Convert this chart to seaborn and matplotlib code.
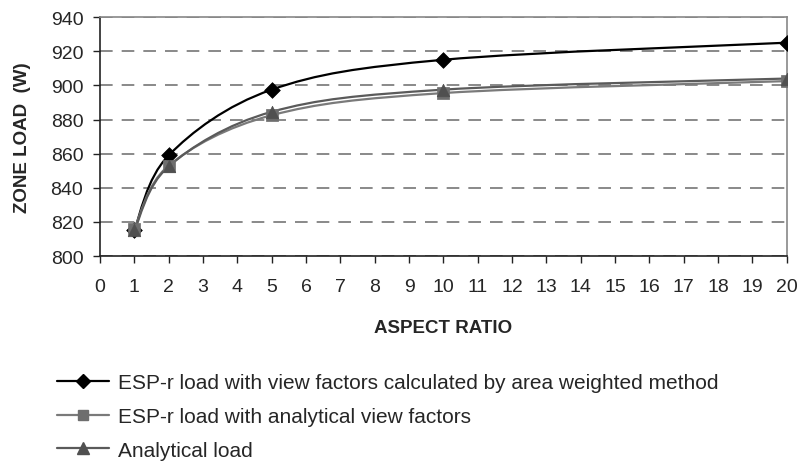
import numpy as np
import pandas as pd
import matplotlib
matplotlib.use("Agg")
import matplotlib.pyplot as plt
from matplotlib.path import Path
from matplotlib.patches import PathPatch
from matplotlib.lines import Line2D
import seaborn as sns

# Zone load versus aspect ratio
aspect_ratio = [1, 2, 5, 10, 20]
load_area_weighted = [815.5, 859, 897.5, 915, 925]
load_analytical_vf = [816, 853, 882.5, 895.5, 902.5]
load_analytical = [815, 852.5, 884.5, 897.5, 904]

series_names = [
    "ESP-r load with view factors calculated by area weighted method",
    "ESP-r load with analytical view factors",
    "Analytical load",
]
series_values = [load_area_weighted, load_analytical_vf, load_analytical]
line_colors = ["#000000", "#7a7a7a", "#5a5a5a"]
marker_colors = ["#000000", "#6e6e6e", "#505050"]
markers = ["D", "s", "^"]
marker_sizes = [8, 8, 9]

x_ticks = list(range(0, 21))
y_ticks = list(range(800, 941, 20))

df = pd.concat(
    [pd.DataFrame({"ratio": aspect_ratio, "load": v, "series": n})
     for n, v in zip(series_names, series_values)],
    ignore_index=True,
)

sns.set_theme(style="white")
plt.rcParams["font.family"] = ["Liberation Sans", "DejaVu Sans"]

fig = plt.figure(figsize=(7.98, 4.64), dpi=100)
ax = fig.add_axes([0.1253, 0.446, 0.8607, 0.515])


def smooth_path(xs, ys, tension=1 / 6):
    """Cubic Bezier path through the points (Catmull-Rom style smoothing)."""
    xs = np.asarray(xs, float)
    ys = np.asarray(ys, float)
    n = len(xs)
    verts = [(xs[0], ys[0])]
    codes = [Path.MOVETO]
    for i in range(n - 1):
        p0 = np.array([xs[max(i - 1, 0)], ys[max(i - 1, 0)]])
        p1 = np.array([xs[i], ys[i]])
        p2 = np.array([xs[i + 1], ys[i + 1]])
        p3 = np.array([xs[min(i + 2, n - 1)], ys[min(i + 2, n - 1)]])
        c1 = p1 + (p2 - p0) * tension
        c2 = p2 - (p3 - p1) * tension
        verts += [tuple(c1), tuple(c2), tuple(p2)]
        codes += [Path.CURVE4] * 3
    return Path(verts, codes)


for name, vals, lc in zip(series_names, series_values, line_colors):
    patch = PathPatch(smooth_path(aspect_ratio, vals), facecolor="none",
                      edgecolor=lc, lw=1.6, zorder=3)
    ax.add_patch(patch)

for name, mk, mc, ms in zip(series_names, markers, marker_colors, marker_sizes):
    sub = df[df["series"] == name]
    sns.scatterplot(data=sub, x="ratio", y="load", marker=mk, color=mc,
                    s=ms ** 2, edgecolor=mc, linewidth=0.5, ax=ax, zorder=4,
                    legend=False)

ax.set_xlim(0, 20)
ax.set_ylim(800, 940)
ax.set_xticks(x_ticks)
ax.set_yticks(y_ticks)
ax.set_xticklabels([str(t) for t in x_ticks], fontsize=14)
ax.set_yticklabels([str(t) for t in y_ticks], fontsize=14)

ax.yaxis.grid(True, color="#808080", linestyle=(0, (7, 5)), linewidth=1.3)
ax.xaxis.grid(False)
ax.set_axisbelow(True)

for side in ["left", "bottom"]:
    ax.spines[side].set_color("#222222")
    ax.spines[side].set_linewidth(1.2)
for side in ["top", "right"]:
    ax.spines[side].set_color("#888888")
    ax.spines[side].set_linewidth(1.2)

ax.tick_params(axis="both", which="major", direction="out", length=5,
               width=1, color="#222222", bottom=True, left=True)
ax.tick_params(axis="x", pad=11)
ax.tick_params(axis="y", pad=7)

ax.set_xlabel("ASPECT RATIO", fontsize=13.5, fontweight="bold")
ax.xaxis.set_label_coords(0.5, -0.265)
ax.set_ylabel("ZONE LOAD  (W)", fontsize=13.5, fontweight="bold")
ax.yaxis.set_label_coords(-0.1, 0.5)

handles = [
    Line2D([0], [0], color=lc, lw=1.6, marker=mk, markersize=ms * 0.95,
           markerfacecolor=mc, markeredgecolor=mc)
    for lc, mc, mk, ms in zip(line_colors, marker_colors, markers, marker_sizes)
]
fig.legend(handles, series_names, loc="upper left",
           bbox_to_anchor=(0.0614, 0.211), frameon=False, fontsize=15,
           handlelength=2.5, handletextpad=0.4, labelspacing=0.7,
           borderaxespad=0)

fig.savefig("out.png", dpi=100)
